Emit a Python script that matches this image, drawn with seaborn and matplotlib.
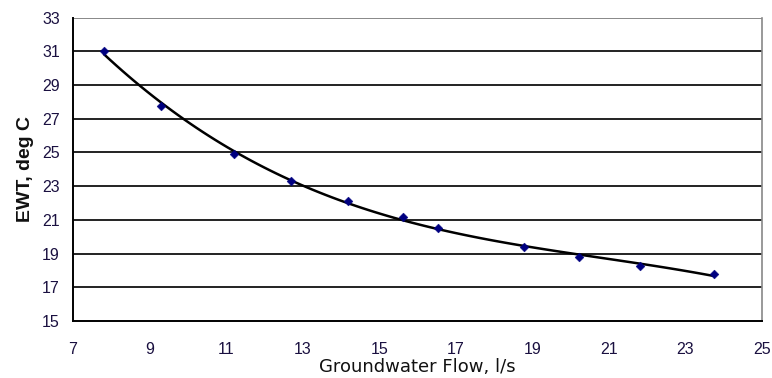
import matplotlib
matplotlib.use("Agg")
import matplotlib.pyplot as plt
import seaborn as sns
import pandas as pd

flow = [7.81, 9.31, 11.20, 12.69, 14.19, 15.63, 16.53, 18.79, 20.22, 21.82, 23.74]
ewt = [31.0, 27.75, 24.9, 23.32, 22.13, 21.15, 20.53, 19.39, 18.81, 18.28, 17.79]
x_ticks = [7, 9, 11, 13, 15, 17, 19, 21, 23, 25]
y_ticks = [15, 17, 19, 21, 23, 25, 27, 29, 31, 33]

df = pd.DataFrame({"flow": flow, "ewt": ewt})

sns.set_style("white")
plt.rcParams["font.family"] = ["Liberation Sans", "DejaVu Sans"]

fig = plt.figure(figsize=(7.72, 3.78), dpi=100)
ax = fig.add_axes([73 / 772, 1 - 321 / 378, (762 - 73) / 772, (321 - 17.5) / 378])

for yv in y_ticks[1:]:
    ax.axhline(yv, color="#222222" if yv != 33 else "#888888", lw=1.4, zorder=1)

sns.regplot(data=df, x="flow", y="ewt", order=3, ci=None, scatter=False, truncate=True,
            line_kws={"color": "black", "lw": 1.8, "zorder": 3}, ax=ax)
sns.scatterplot(data=df, x="flow", y="ewt", marker="D", s=20, color="#000080",
                edgecolor="#000080", zorder=4, ax=ax)

ax.set_xlim(7, 25)
ax.set_ylim(15, 33)
ax.set_xticks(x_ticks)
ax.set_yticks(y_ticks)
ax.set_xticklabels([str(v) for v in x_ticks])
ax.set_yticklabels([str(v) for v in y_ticks])
ax.tick_params(axis="both", direction="out", length=4, width=1.2, colors="black",
               labelsize=11.5, labelcolor="#1a1040")
ax.tick_params(axis="x", pad=11)
ax.tick_params(axis="y", pad=5.5)

for s in ["left", "bottom"]:
    ax.spines[s].set_color("black")
    ax.spines[s].set_linewidth(1.4)
ax.spines["right"].set_color("#888888")
ax.spines["right"].set_linewidth(1.2)
ax.spines["top"].set_visible(False)

ax.set_xlabel("Groundwater Flow, l/s", fontsize=13, labelpad=1, color="#111111",
              family=["DejaVu Sans"])
ax.set_ylabel("EWT, deg C", fontsize=14, fontweight="bold", labelpad=6, color="#111111")

fig.savefig("out.png", dpi=100)
